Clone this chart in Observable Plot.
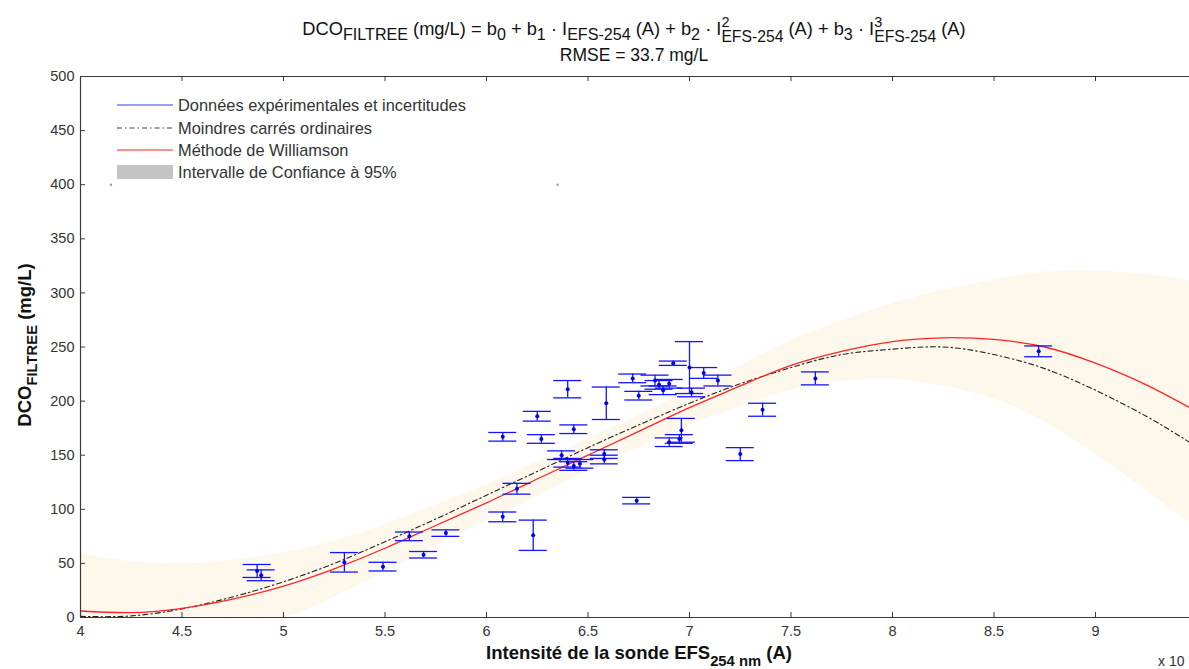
<!DOCTYPE html>
<html><head><meta charset="utf-8">
<script src="https://cdn.jsdelivr.net/npm/d3@7"></script>
<script src="https://cdn.jsdelivr.net/npm/@observablehq/plot@0.6"></script>
<style>
body{margin:0;background:#fff;}
#wrap{position:relative;width:1189px;height:669px;overflow:hidden;font-family:"Liberation Sans",Arial,sans-serif;color:#111;}
#chart{position:absolute;left:0;top:0;}
.abs{position:absolute;white-space:nowrap;line-height:1;}
.title{left:634px;transform:translateX(-50%);font-size:17.5px;text-align:center;}
.t1{font-size:18.3px;}
sub{font-size:0.8em;vertical-align:-0.45em;line-height:0;}
.title sub{font-size:0.88em;vertical-align:-0.35em;}
.ss{display:inline-flex;flex-direction:column;align-items:flex-start;font-size:0.86em;line-height:1;vertical-align:0.5em;}
.ss span:first-child{font-size:0.92em;}
.ylab{left:25px;top:345px;transform:translate(-50%,-50%) rotate(-90deg);font-size:18.5px;font-weight:bold;}
.xlab{left:639px;top:644px;transform:translateX(-50%);font-size:18.5px;font-weight:bold;}
.leg{left:117px;font-size:16.4px;color:#333;display:flex;align-items:center;gap:5px;}
</style></head><body>
<div id="wrap">
  <div id="chart"></div>
  <div class="abs title t1" style="top:15px">DCO<sub>FILTREE</sub> (mg/L) = b<sub>0</sub> + b<sub>1</sub> · I<sub>EFS-254</sub> (A) + b<sub>2</sub> · I<span class="ss"><span>2</span><span>EFS-254</span></span> (A) + b<sub>3</sub> · I<span class="ss"><span>3</span><span>EFS-254</span></span> (A)</div>
  <div class="abs title" style="top:47px">RMSE = 33.7 mg/L</div>
  <div class="abs ylab">DCO<sub>FILTREE</sub> (mg/L)</div>
  <div class="abs xlab">Intensité de la sonde EFS<sub>254 nm</sub> (A)</div>
  <div class="abs" style="left:1158px;top:654px;font-size:14px;color:#333">x 10</div>
  <div class="abs leg" style="top:97px"><svg width="56" height="12"><line x1="0" x2="56" y1="6" y2="6" stroke="#7878ff" stroke-width="1.6"/></svg><span>Données expérimentales et incertitudes</span></div>
  <div class="abs leg" style="top:120px"><svg width="56" height="12"><line x1="0" x2="56" y1="6" y2="6" stroke="#444" stroke-width="1.2" stroke-dasharray="5,3,1.5,3"/></svg><span>Moindres carrés ordinaires</span></div>
  <div class="abs leg" style="top:142px"><svg width="56" height="12"><line x1="0" x2="56" y1="6" y2="6" stroke="#ff6a6a" stroke-width="1.6"/></svg><span>Méthode de Williamson</span></div>
  <div class="abs leg" style="top:164px"><svg width="56" height="14"><rect x="0" y="0" width="56" height="14" fill="#c4c4c4"/></svg><span>Intervalle de Confiance à 95%</span></div>
</div>
<script>
// Experimental points (x in units of the axis, DCO in mg/L, half-width of uncertainty)
const ptX = [4.87, 4.89, 5.30, 5.49, 5.62, 5.69, 5.80, 6.08, 6.08, 6.15, 6.23, 6.25, 6.27, 6.37, 6.40, 6.40, 6.43, 6.43, 6.46, 6.58, 6.58, 6.59, 6.72, 6.74, 6.75, 6.83, 6.85, 6.87, 6.90, 6.90, 6.92, 6.95, 6.96, 7.00, 7.01, 7.07, 7.14, 7.25, 7.36, 7.62, 8.72];
const ptY = [43, 39, 51, 47, 75, 58, 78, 167, 93, 119, 76, 186, 165, 150, 143, 211, 174, 140, 142, 151, 146, 198, 221, 108, 205, 219, 215, 210, 216, 162, 235, 165, 173, 231, 208, 226, 219, 151, 192, 221, 246];
const ptErr = [6, 5, 9, 4, 4, 3, 3, 4, 4.5, 5, 14, 4.5, 4, 4, 4, 8, 4, 4, 4, 4, 4, 15, 4, 3, 4, 5, 4, 4, 4, 4, 2, 4, 11, 24, 4, 5, 5, 6, 6, 6, 5];

// Fitted curves
const curveX     = [4.0, 4.25, 4.5, 4.75, 5.0, 5.25, 5.5, 5.75, 6.0, 6.25, 6.5, 6.75, 7.0, 7.25, 7.5, 7.75, 8.0, 8.25, 8.5, 8.75, 9.0, 9.25, 9.463];
const williamson = [6, 4.5, 8.5, 17, 29, 45, 64, 85, 106, 128, 150, 172, 194, 214, 233, 246, 255, 258.5, 257, 250, 235, 215, 194];
const moindres   = [1, 1.5, 8, 19, 33, 50, 70, 91, 113, 135, 157, 178, 198, 216, 231, 243, 248, 250, 243, 230, 210, 186, 162];
const ciLow      = [0, 0, 0, 0, 0, 19, 42, 66, 89, 112, 135, 157, 178, 195, 210, 218, 220, 214, 202, 181, 151, 117, 88];
const ciHigh     = [59, 51.5, 49.5, 53, 60, 71, 86, 104, 123, 144, 165, 187, 210, 233, 256, 274, 290, 302.5, 312, 319, 320, 317, 311];

// Small grey marks near the legend
const markX = [4.15, 6.35];
const markY = [400, 400];

const xTicks = [4, 4.5, 5, 5.5, 6, 6.5, 7, 7.5, 8, 8.5, 9];
const yTicks = [0, 50, 100, 150, 200, 250, 300, 350, 400, 450, 500];

const pts = ptX.map((x, i) => ({x, y: ptY[i], e: ptErr[i]}));
const curve = curveX.map((x, i) => ({x, will: williamson[i], ols: moindres[i], lo: ciLow[i], hi: ciHigh[i]}));
const marks = markX.map((x, i) => ({x, y: markY[i]}));

const blue = "#1414ff";
const frame = "#3a3a3a";

const plot = Plot.plot({
  width: 1189, height: 669,
  marginTop: 76, marginBottom: 52, marginLeft: 80, marginRight: 0,
  style: {fontFamily: '"Liberation Sans", Arial, sans-serif', fontSize: "14.5px", color: "#333", background: "transparent", overflow: "visible"},
  x: {domain: [4, 9.463], ticks: xTicks, tickSize: 0, tickPadding: 8, tickFormat: d => String(d), label: null},
  y: {domain: [0, 500], ticks: yTicks, tickSize: 0, tickPadding: 6, tickFormat: d => String(d), label: null},
  marks: [
    Plot.areaY(curve, {x: "x", y1: "lo", y2: "hi", fill: "#fef8ec", curve: "natural"}),
    Plot.line(curve, {x: "x", y: "ols", stroke: "#222", strokeWidth: 1.1, strokeDasharray: "5,3,1.5,3", curve: "natural"}),
    Plot.line(curve, {x: "x", y: "will", stroke: "#ff2424", strokeWidth: 1.3, curve: "natural"}),
    Plot.ruleX(pts, {x: "x", y1: d => d.y - d.e, y2: d => d.y + d.e, stroke: blue, strokeWidth: 1.3}),
    Plot.ruleY(pts, {y: d => d.y + d.e, x1: "x", x2: "x", insetLeft: -14, insetRight: -14, stroke: blue, strokeWidth: 1.3}),
    Plot.ruleY(pts, {y: d => d.y - d.e, x1: "x", x2: "x", insetLeft: -14, insetRight: -14, stroke: blue, strokeWidth: 1.3}),
    Plot.dot(pts, {x: "x", y: "y", r: 2, fill: "#0000ee", stroke: "none"}),
    Plot.dot(marks, {x: "x", y: "y", r: 1.2, fill: "#999", stroke: "none"}),
    // frame
    Plot.ruleX([4], {stroke: frame, strokeWidth: 1.2}),
    Plot.ruleY([0], {stroke: frame, strokeWidth: 1.2}),
    Plot.ruleY([500], {stroke: frame, strokeWidth: 1.2}),
    // inward ticks
    Plot.ruleX(xTicks, {x: d => d, y1: 0, y2: 0, insetBottom: 5, stroke: frame}),
    Plot.ruleX(xTicks, {x: d => d, y1: 500, y2: 500, insetBottom: -5, stroke: frame}),
    Plot.ruleY(yTicks, {y: d => d, x1: 4, x2: 4, insetRight: -5, stroke: frame})
  ]
});
document.getElementById("chart").appendChild(plot);
</script>
</body></html>
